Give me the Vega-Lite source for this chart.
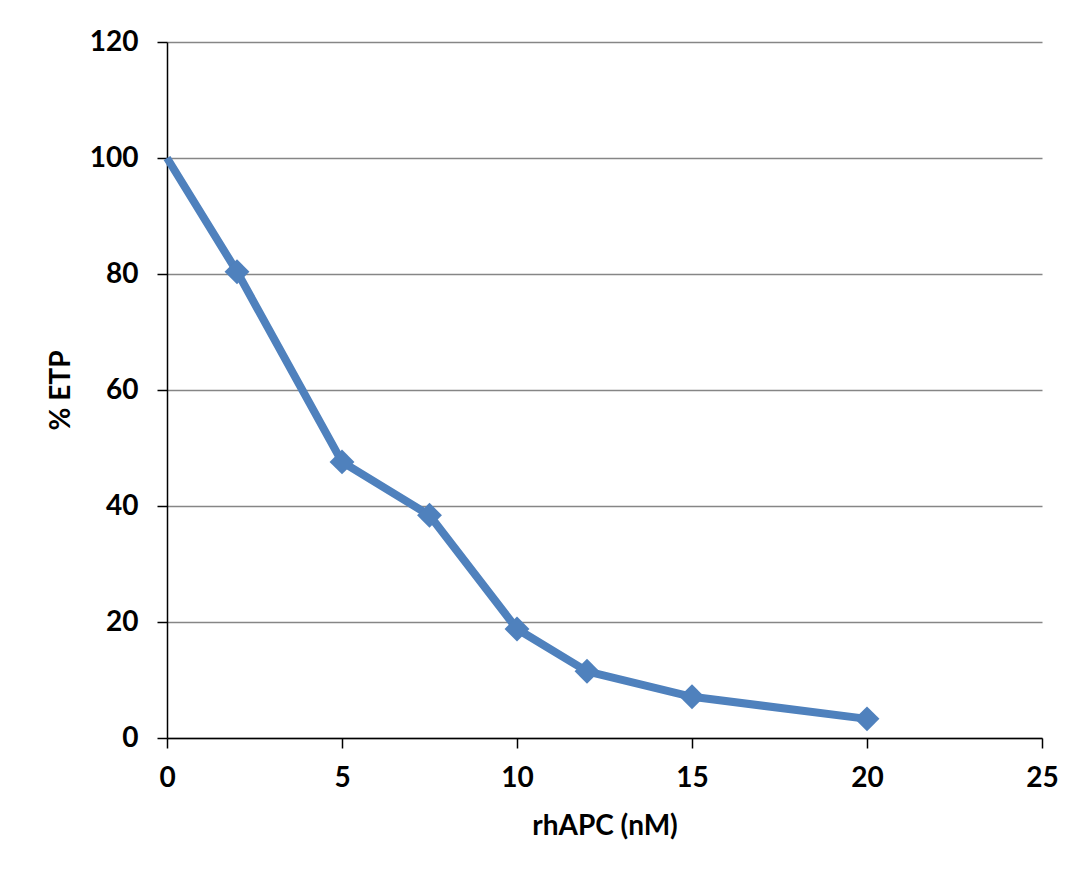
{
  "$schema": "https://vega.github.io/schema/vega-lite/v6.json",
  "width": 875,
  "height": 696,
  "autosize": {"type": "none"},
  "padding": {"left": 167, "top": 42, "right": 33, "bottom": 132},
  "background": "white",
  "config": {
    "view": {"stroke": null},
    "font": "Lato",
    "axis": {
      "labelFont": "Lato",
      "titleFont": "Lato",
      "labelFontWeight": "bold",
      "titleFontWeight": "bold",
      "labelFontSize": 28,
      "titleFontSize": 28,
      "labelColor": "black",
      "titleColor": "black",
      "domainColor": "black",
      "domainWidth": 1.5,
      "tickColor": "black",
      "tickWidth": 1.5,
      "tickSize": 10
    }
  },
  "data": {
    "values": [
      {"rhAPC": 0, "ETP": 100},
      {"rhAPC": 2, "ETP": 80.4},
      {"rhAPC": 5, "ETP": 47.6},
      {"rhAPC": 7.5, "ETP": 38.4},
      {"rhAPC": 10, "ETP": 18.8},
      {"rhAPC": 12, "ETP": 11.5},
      {"rhAPC": 15, "ETP": 7.1},
      {"rhAPC": 20, "ETP": 3.3}
    ]
  },
  "encoding": {
    "x": {
      "field": "rhAPC",
      "type": "quantitative",
      "scale": {"domain": [0, 25], "nice": false},
      "axis": {
        "title": "rhAPC (nM)",
        "values": [0, 5, 10, 15, 20, 25],
        "grid": false,
        "labelPadding": 16,
        "titlePadding": 20,
        "labelFlush": false
      }
    },
    "y": {
      "field": "ETP",
      "type": "quantitative",
      "scale": {"domain": [0, 120], "nice": false},
      "axis": {
        "title": "% ETP",
        "values": [0, 20, 40, 60, 80, 100, 120],
        "grid": true,
        "gridColor": "#868686",
        "gridWidth": 1.5,
        "labelPadding": 19,
        "titlePadding": 14,
        "labelFlush": false
      }
    }
  },
  "layer": [
    {
      "mark": {"type": "line", "color": "#4F81BD", "strokeWidth": 8, "strokeJoin": "round"}
    },
    {
      "transform": [{"filter": "datum.rhAPC > 0"}],
      "mark": {"type": "point", "shape": "diamond", "filled": true, "color": "#4F81BD", "opacity": 1, "size": 620}
    }
  ]
}
